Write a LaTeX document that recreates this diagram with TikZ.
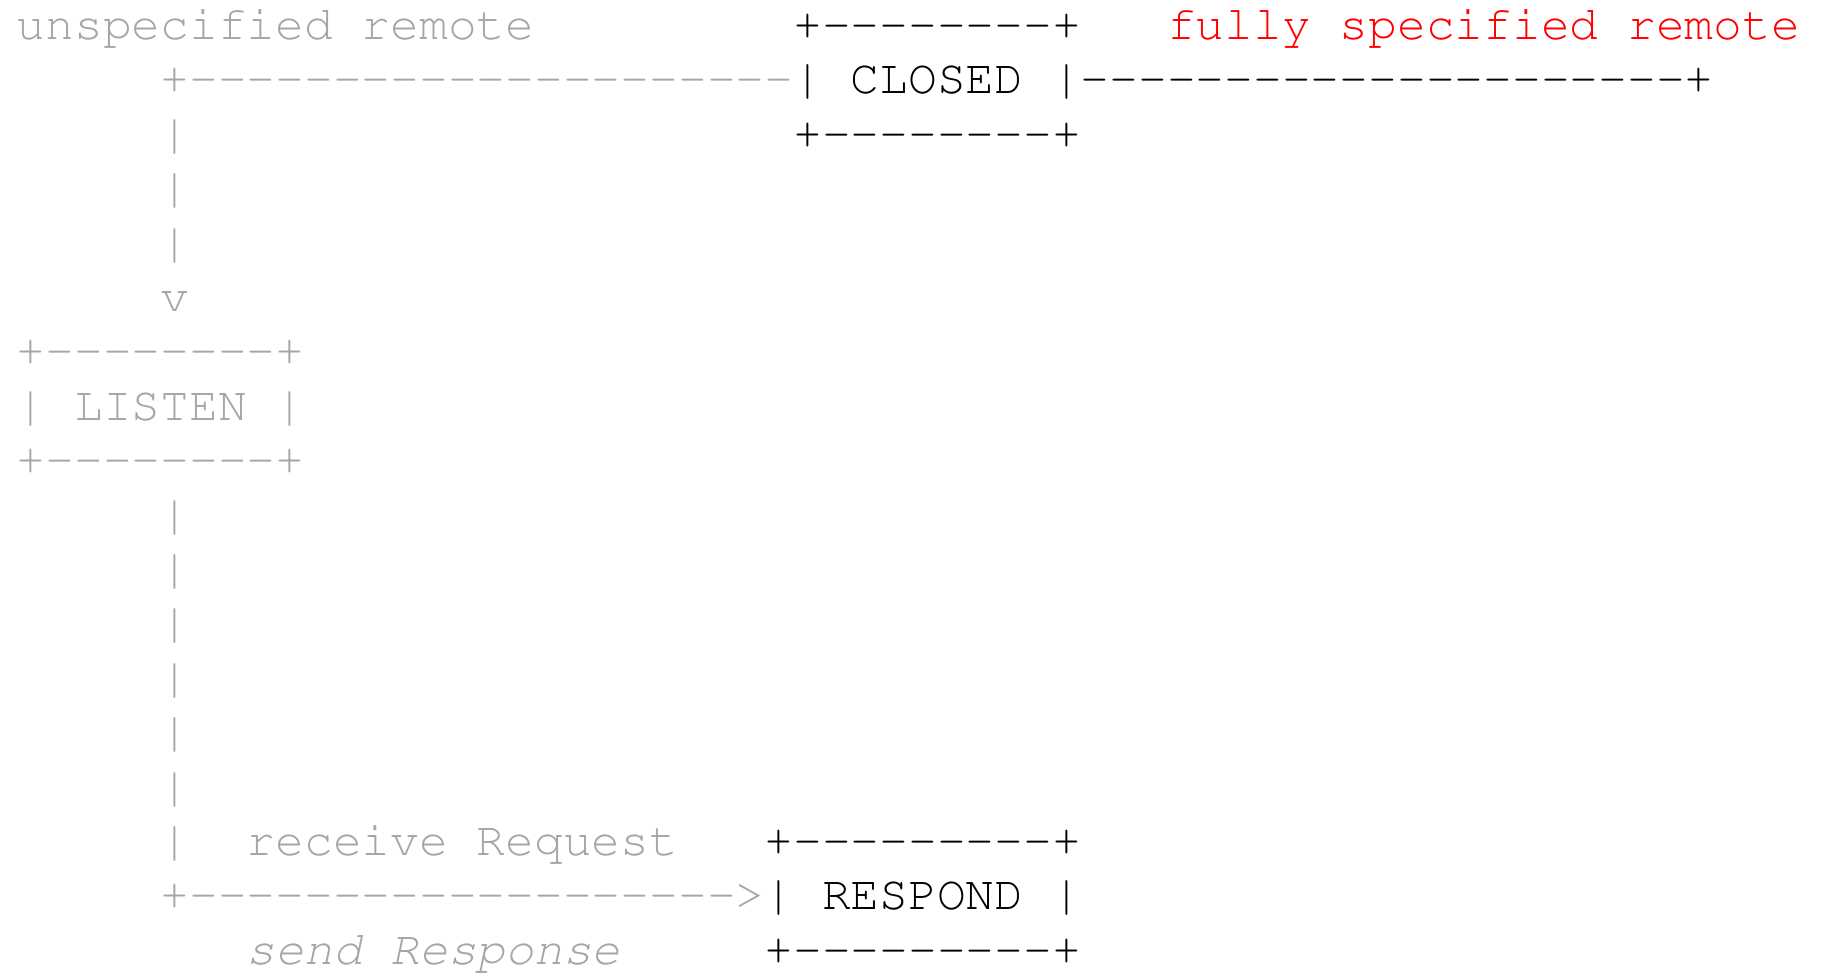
\documentclass[tikz,border=0pt]{standalone}
\usepackage[T1]{fontenc}
\usepackage{courier}
\definecolor{asciigray}{HTML}{A6A6A6}
\definecolor{asciired}{HTML}{FF0000}
\newcommand\hy{-{}}
\newcommand\dsh[1]{\foreach \i in {1,...,#1}{\hy}}
\tikzset{
  ascii/.style={inner sep=0pt, outer sep=0pt, anchor=base west,
    font=\fontencoding{T1}\fontfamily{pcr}\fontsize{47.93bp}{54.4bp}\selectfont},
  grayt/.style={ascii, text=asciigray},
  blackt/.style={ascii, text=black},
  redt/.style={ascii, text=asciired},
}
\begin{document}
\begin{tikzpicture}[x=1bp,y=1bp]
\fill[white] (0,0) rectangle (1823,973);
\useasboundingbox (0,0) rectangle (1823,973);
% column c, row r  ->  (16.8 + 28.76 c, 933.5 - 54.4 r)
% row 0
\node[grayt]  (lblU)      at ({16.8+0*28.76},{933.5-0*54.4})  {unspecified remote};
\node[blackt] (closedT)   at ({16.8+27*28.76},{933.5-0*54.4}) {+\dsh{8}+};
\node[redt]   (lblF)      at ({16.8+40*28.76},{933.5-0*54.4}) {fully specified remote};
% row 1
\node[grayt]  (lineL)     at ({16.8+5*28.76},{933.5-1*54.4})  {+\dsh{21}};
\node[blackt] (closedM)   at ({16.8+27*28.76},{933.5-1*54.4}) {| CLOSED |};
\node[blackt] (lineR)     at ({16.8+37*28.76},{933.5-1*54.4}) {\dsh{21}+};
% row 2
\node[grayt]  (v2)        at ({16.8+5*28.76},{933.5-2*54.4})  {|};
\node[blackt] (closedB)   at ({16.8+27*28.76},{933.5-2*54.4}) {+\dsh{8}+};
% rows 3-5
\node[grayt]  (v3)        at ({16.8+5*28.76},{933.5-3*54.4})  {|};
\node[grayt]  (v4)        at ({16.8+5*28.76},{933.5-4*54.4})  {|};
\node[grayt]  (arrV)      at ({16.8+5*28.76},{933.5-5*54.4})  {v};
% LISTEN box rows 6-8
\node[grayt]  (listenT)   at ({16.8+0*28.76},{933.5-6*54.4})  {+\dsh{8}+};
\node[grayt]  (listenM)   at ({16.8+0*28.76},{933.5-7*54.4})  {| LISTEN |};
\node[grayt]  (listenB)   at ({16.8+0*28.76},{933.5-8*54.4})  {+\dsh{8}+};
% rows 9-15 vertical bars
\node[grayt]  (v9)        at ({16.8+5*28.76},{933.5-9*54.4})  {|};
\node[grayt]  (v10)       at ({16.8+5*28.76},{933.5-10*54.4}) {|};
\node[grayt]  (v11)       at ({16.8+5*28.76},{933.5-11*54.4}) {|};
\node[grayt]  (v12)       at ({16.8+5*28.76},{933.5-12*54.4}) {|};
\node[grayt]  (v13)       at ({16.8+5*28.76},{933.5-13*54.4}) {|};
\node[grayt]  (v14)       at ({16.8+5*28.76},{933.5-14*54.4}) {|};
\node[grayt]  (v15)       at ({16.8+5*28.76},{933.5-15*54.4}) {|};
% row 15
\node[grayt]  (lblRecv)   at ({16.8+8*28.76},{933.5-15*54.4}) {receive Request};
\node[blackt] (respondT)  at ({16.8+26*28.76},{933.5-15*54.4}) {+\dsh{9}+};
% row 16
\node[grayt]  (arrH)      at ({16.8+5*28.76},{933.5-16*54.4}) {+\dsh{19}>};
\node[blackt] (respondM)  at ({16.8+26*28.76},{933.5-16*54.4}) {| RESPOND |};
% row 17
\node[grayt]  (lblSend)   at ({16.8+8*28.76},{933.5-17*54.4}) {\itshape send Response};
\node[blackt] (respondB)  at ({16.8+26*28.76},{933.5-17*54.4}) {+\dsh{9}+};
\end{tikzpicture}
\end{document}
